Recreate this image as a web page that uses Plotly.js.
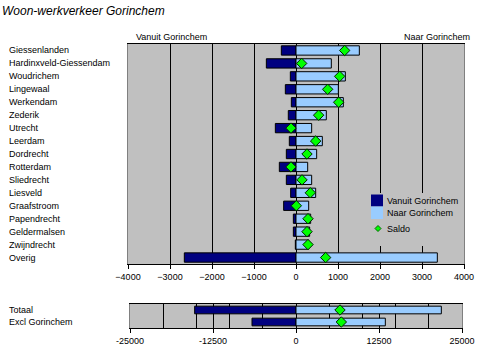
<!DOCTYPE html>
<html>
<head>
<meta charset="utf-8">
<script src="https://cdn.plot.ly/plotly-3.0.1.min.js"></script>
<style>html,body{margin:0;padding:0;background:#fff;}#chart{width:480px;height:354px;}</style>
</head>
<body>
<div id="chart"></div>
<script>
// ---- data ----
const gemeenten = ["Giessenlanden","Hardinxveld-Giessendam","Woudrichem","Lingewaal","Werkendam","Zederik","Utrecht","Leerdam","Dordrecht","Rotterdam","Sliedrecht","Liesveld","Graafstroom","Papendrecht","Geldermalsen","Zwijndrecht","Overig"];
const vanuit = [-349,-706,-135,-254,-111,-183,-492,-159,-230,-397,-230,-127,-294,-63,-63,-16,-2659];
const naar   = [1508,841,1175,1008,1127,722,373,627,492,278,373,468,302,349,325,302,3365];
const saldo  = [1159,135,1040,754,1016,539,-119,468,262,-119,143,341,8,286,262,286,706];

const totCats   = ["Totaal","Excl Gorinchem"];
const totVanuit = [-15261,-6627];
const totNaar   = [21888,13454];
const totSaldo  = [6627,6827];

const mainTicks = [-4000,-3000,-2000,-1000,0,1000,2000,3000,4000];
const totTicks  = [-25000,-12500,0,12500,25000];
const seriesNames = ["Vanuit Gorinchem","Naar Gorinchem","Saldo"];

// ---- styling ----
const FONT = "Liberation Sans, Arial, sans-serif";
const DARK = "#000080", LIGHT = "#99CCFF", GREEN = "#00FF00";
const PW = 336, PH = 284, L = 128, B = 328; // plot-area pixel geometry
const px = v => (v - L) / PW;     // pixel x -> paper x
const py = v => (B - v) / PH;     // pixel y -> paper y

const traces = [
  {type:"bar", orientation:"h", name:seriesNames[0], y:gemeenten, x:vanuit, xaxis:"x", yaxis:"y",
   width:0.72, marker:{color:DARK, line:{color:"#000", width:1}}},
  {type:"bar", orientation:"h", name:seriesNames[1], y:gemeenten, x:naar, xaxis:"x", yaxis:"y",
   width:0.72, marker:{color:LIGHT, line:{color:"#000", width:1}}},
  {type:"scatter", mode:"markers", name:seriesNames[2], y:gemeenten, x:saldo, xaxis:"x", yaxis:"y",
   marker:{symbol:"diamond", size:8, color:GREEN, line:{color:"#002200", width:1}}},
  {type:"bar", orientation:"h", name:seriesNames[0], y:totCats, x:totVanuit, xaxis:"x2", yaxis:"y2",
   width:0.64, marker:{color:DARK, line:{color:"#000", width:1}}},
  {type:"bar", orientation:"h", name:seriesNames[1], y:totCats, x:totNaar, xaxis:"x2", yaxis:"y2",
   width:0.64, marker:{color:LIGHT, line:{color:"#000", width:1}}},
  {type:"scatter", mode:"markers", name:seriesNames[2], y:totCats, x:totSaldo, xaxis:"x2", yaxis:"y2",
   marker:{symbol:"diamond", size:8, color:GREEN, line:{color:"#002200", width:1}}}
];

const lab = (t, yref, y) => ({text:t, xref:"paper", yref:yref, x:px(7), y:y, xanchor:"left", yanchor:"middle",
  showarrow:false, font:{family:FONT, size:9, color:"#000"}});
const annotations = [];
gemeenten.forEach(g => annotations.push(lab(g, "y", g)));
totCats.forEach(g => annotations.push(lab(g, "y2", g)));
annotations.push({text:"Vanuit Gorinchem", xref:"paper", yref:"paper", x:px(134), y:py(37),
  xanchor:"left", yanchor:"middle", showarrow:false, font:{family:FONT, size:9, color:"#000"}});
annotations.push({text:"Naar Gorinchem", xref:"paper", yref:"paper", x:px(472), y:py(37),
  xanchor:"right", yanchor:"middle", showarrow:false, font:{family:FONT, size:9, color:"#000"}});

// legend (drawn as a small key box inside the plot, like the original)
const legY = [200.5, 213, 228.5];
seriesNames.forEach((n, i) => annotations.push({text:n, xref:"paper", yref:"paper", x:px(385), y:py(legY[i]),
  xanchor:"left", yanchor:"middle", showarrow:false, font:{family:FONT, size:9, color:"#000"}}));
const shapes = [
  {type:"rect", xref:"paper", yref:"paper", x0:px(368), x1:px(463.5), y0:py(193), y1:py(246),
   fillcolor:"#C0C0C0", line:{width:0}, layer:"above"},
  {type:"rect", xref:"paper", yref:"paper", x0:px(371), x1:px(383), y0:py(194.5), y1:py(206.5),
   fillcolor:DARK, line:{width:0}, layer:"above"},
  {type:"rect", xref:"paper", yref:"paper", x0:px(371), x1:px(383), y0:py(206.5), y1:py(219),
   fillcolor:LIGHT, line:{width:0}, layer:"above"},
  {type:"path", xref:"paper", yref:"paper",
   path:`M${px(378)},${py(225.5)} L${px(381)},${py(228.5)} L${px(378)},${py(231.5)} L${px(375)},${py(228.5)} Z`,
   fillcolor:GREEN, line:{color:"#006600", width:1}, layer:"above"}
];

const layout = {
  width:480, height:354,
  margin:{l:128, r:16, t:44, b:26},
  paper_bgcolor:"#fff", plot_bgcolor:"#C0C0C0",
  font:{family:FONT, size:9, color:"#000"},
  title:{text:"<i>Woon-werkverkeer Gorinchem</i>", xref:"container", yref:"container",
         x:2/480, xanchor:"left", y:1-10.5/354, yanchor:"middle", font:{family:FONT, size:12, color:"#000"}},
  barmode:"relative",
  showlegend:false,
  xaxis:{domain:[0,1], anchor:"y", range:[-4000,4000], tickvals:mainTicks, ticks:"outside", ticklen:4,
         tickcolor:"#000", showgrid:true, gridcolor:"#000", gridwidth:1, zeroline:true, zerolinecolor:"#000",
         zerolinewidth:1, showline:true, linecolor:"#000", mirror:true, tickfont:{family:FONT, size:9}, fixedrange:true},
  yaxis:{domain:[64/284,1], anchor:"x", type:"category", categoryarray:gemeenten, range:[16.5,-0.5],
         showticklabels:false, ticks:"", showgrid:false, zeroline:false, showline:true, linecolor:"#808080", mirror:true, fixedrange:true},
  xaxis2:{domain:[2/336,334/336], anchor:"y2", range:[-25000,25000], tickvals:totTicks, ticktext:totTicks.map(String),
          ticks:"outside", ticklen:4, tickcolor:"#000", showgrid:true, gridcolor:"#000", gridwidth:1,
          minor:{dtick:5000, tick0:0, showgrid:true, gridcolor:"#000", gridwidth:1, ticks:""},
          zeroline:true, zerolinecolor:"#000", zerolinewidth:1, showline:true, linecolor:"#000", mirror:true,
          tickfont:{family:FONT, size:9}, fixedrange:true},
  yaxis2:{domain:[0,24/284], anchor:"x2", type:"category", categoryarray:totCats, range:[1.5,-0.5],
          showticklabels:false, ticks:"", showgrid:false, zeroline:false, showline:true, linecolor:"#808080", mirror:true, fixedrange:true},
  annotations:annotations,
  shapes:shapes
};

Plotly.newPlot("chart", traces, layout, {displayModeBar:false, staticPlot:true});
</script>
</body>
</html>
